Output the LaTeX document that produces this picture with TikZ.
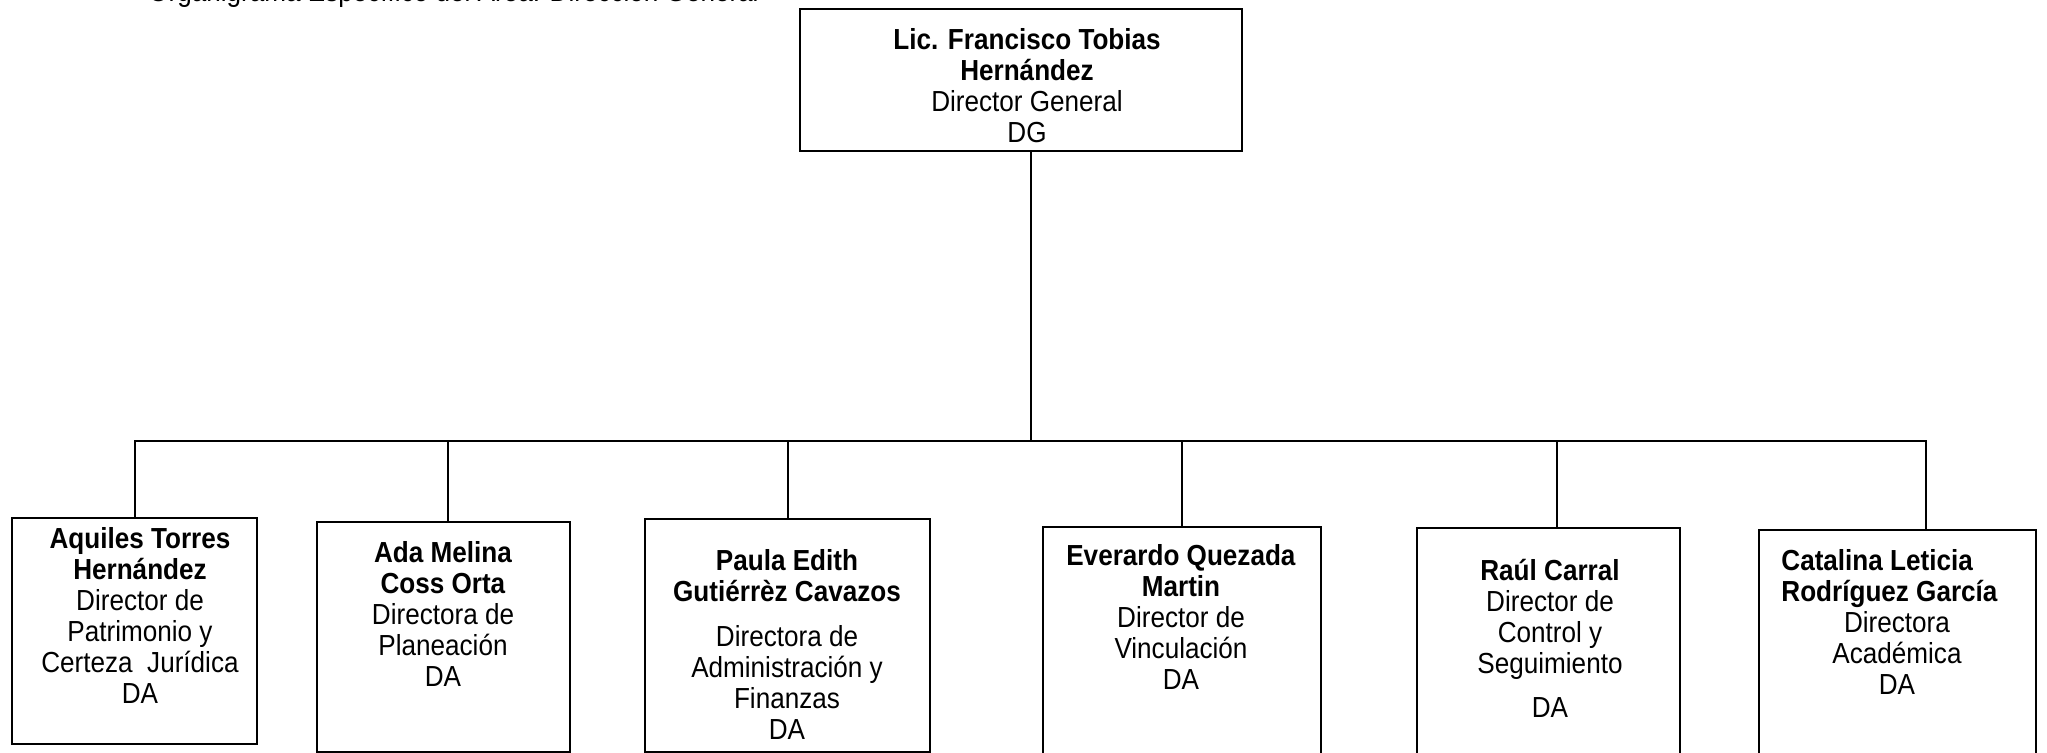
\documentclass[tikz,border=0pt]{standalone}
\usepackage{fontspec}
\setmainfont{Liberation Sans}[FakeStretch=0.9]
\usetikzlibrary{fit}
\begin{document}
\begin{tikzpicture}[x=0.5pt,y=-0.5pt,
  box/.style={draw, line width=1pt, inner sep=0pt},
  link/.style={line width=1pt},
  txt/.style={inner sep=0pt, align=center, font=\fontsize{14.5}{15.5}\selectfont, anchor=north}]
\useasboundingbox (0,0) rectangle (2047,753);
% header (cut off at the top edge)
\node[anchor=base west, inner sep=0pt, font=\fontsize{14.5}{15.5}\selectfont] (hdr) at (148,2) {Organigrama Específico del Área: Dirección General};
% boxes
\node[box, fit={(800,9) (1242,151)}] (b0) {};
\node[box, fit={(12,518) (257,744)}] (b1) {};
\node[box, fit={(317,522) (570,752)}] (b2) {};
\node[box, fit={(645,519) (930,752)}] (b3) {};
\node[box, fit={(1043,527) (1321,770)}] (b4) {};
\node[box, fit={(1417,528) (1680,770)}] (b5) {};
\node[box, fit={(1759,530) (2036,770)}] (b6) {};
% texts
\node[txt] (t0) at (1027,28) {\textbf{Lic. Francisco Tobias}\\\textbf{Hernández}\\Director General\\DG};
\node[txt] (t1) at (140,527) {\textbf{Aquiles Torres}\\\textbf{Hernández}\\Director de\\Patrimonio y\\Certeza\ \ Jurídica\\DA};
\node[txt] (t2) at (443,541) {\textbf{Ada Melina}\\\textbf{Coss Orta}\\Directora de\\Planeación\\DA};
\node[txt] (t3) at (787,549) {\textbf{Paula Edith}\\\textbf{Gutiérrèz Cavazos}\\[7pt]Directora de\\Administración y\\Finanzas\\DA};
\node[txt] (t4) at (1181,544) {\textbf{Everardo Quezada}\\\textbf{Martin}\\Director de\\Vinculación\\DA};
\node[txt] (t5) at (1550,559) {\textbf{Raúl Carral}\\Director de\\Control y\\Seguimiento\\[6.5pt]DA};
\node[txt, anchor=north west, align=left] (t6a) at (1781,549) {\textbf{Catalina Leticia}\\\textbf{Rodríguez García}};
\node[txt] (t6b) at (1897,611) {Directora\\Académica\\DA};
% connectors
\coordinate (bus) at (0,441);
\coordinate (c0) at ([xshift=5pt]b0.south);
\coordinate (c2) at ([xshift=2pt]b2.north);
\coordinate (c5) at ([xshift=4pt]b5.north);
\coordinate (c6) at ([xshift=14pt]b6.north);
\draw[link] (c0) -- (c0 |- bus);
\draw[link] (b1.north) |- (c6 |- bus) -- (c6);
\draw[link] (c2) -- (c2 |- bus);
\draw[link] (b3.north) -- (b3.north |- bus);
\draw[link] (b4.north) -- (b4.north |- bus);
\draw[link] (c5) -- (c5 |- bus);
\end{tikzpicture}
\end{document}
